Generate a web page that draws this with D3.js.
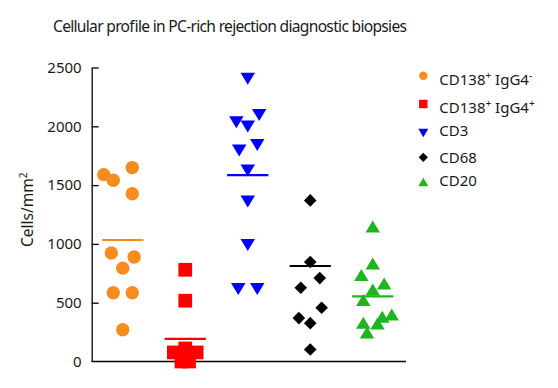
<!DOCTYPE html>
<html>
<head>
<meta charset="utf-8">
<script src="https://cdn.jsdelivr.net/npm/d3@7"></script>
<style>
  html, body { margin: 0; padding: 0; background: #fff; }
  svg { display: block; }
  text { font-family: "Noto Sans", "DejaVu Sans", sans-serif; fill: #1a1a1a; }
</style>
</head>
<body>
<svg id="chart" width="558" height="388"></svg>
<script>
// ---------------- data ----------------
const categories = ["CD138+ IgG4-", "CD138+ IgG4+", "CD3", "CD68", "CD20"];

const cd138IgG4Neg = [1589, 1541, 1649, 1427, 922, 888, 794, 585, 585, 270];
const cd138IgG4Pos = [780, 517, 111, 77, 77, 60, 30, 0, 0];
const cd3 = [2421, 2114, 2052, 2015, 1859, 1811, 1641, 1377, 1007, 633, 633];
const cd68 = [1370, 846, 709, 627, 457, 369, 326, 102];
const cd20 = [1130, 817, 718, 647, 596, 505, 383, 363, 312, 306, 230];

// horizontal spread of the dots inside each column (scatter-dot-plot slots)
const cd138IgG4NegSlot = [-2, -1, 1, 1, -1.2, 1.2, 0, -1, 1, 0];
const cd138IgG4PosSlot = [0, 0, 0, -1.2, 1.2, 0, 0, -0.4, 0.4];
const cd3Slot = [0, 1.2, -1.2, 0, 1, -0.9, 0, 0, 0, -1, 1];
const cd68Slot = [0, 0, 1, -1, 1.2, -1.2, 0, 0];
const cd20Slot = [0, 0, -1.2, 1.2, 0, -1, 2, 1, -1, 0.5, -0.6];

const groupMeans = [1033, 193, 1584, 812, 553];
const yTicks = [0, 500, 1000, 1500, 2000, 2500];

const titleText = "Cellular profile in PC-rich rejection diagnostic biopsies";
const yLabel = "Cells/mm";

// ---------------- layout / style ----------------
const svg = d3.select("#chart");
const axisX = 91.7, axisRight = 406;
const colors = ["#f68b1f", "#ff0000", "#0000ff", "#000000", "#1fb51f"];

const y = d3.scaleLinear().domain([0, 2500]).range([361.5, 67.5]);
const x = d3.scalePoint().domain(categories).range([91.5, 404]).padding(0.5);
const slot = d3.scaleLinear().domain([0, 1]).range([0, x.step() * 0.152]);

// marker shapes (d3 symbol types)
function triType(w, h, down) {
  return { draw(ctx) {
    const s = down ? 1 : -1;
    ctx.moveTo(0, s * h * 2 / 3);
    ctx.lineTo(-w / 2, -s * h / 3);
    ctx.lineTo(w / 2, -s * h / 3);
    ctx.closePath();
  }};
}
function diamondType(hw, hh) {
  return { draw(ctx) {
    ctx.moveTo(0, -hh); ctx.lineTo(hw, 0); ctx.lineTo(0, hh); ctx.lineTo(-hw, 0); ctx.closePath();
  }};
}
function squareType(s) {
  return { draw(ctx) { ctx.rect(-s / 2, -s / 2, s, s); } };
}
function circleType(r) {
  return { draw(ctx) { ctx.moveTo(r, 0); ctx.arc(0, 0, r, 0, 2 * Math.PI); } };
}

const plotShapes = [circleType(6.7), squareType(13.7), triType(14.5, 12, true), diamondType(6.3, 6.3), triType(14.5, 12, false)];
const legendShapes = [circleType(4.2), squareType(8.5), triType(10, 8.5, true), diamondType(4.6, 4.6), triType(10, 8.5, false)];

const seriesValues = [cd138IgG4Neg, cd138IgG4Pos, cd3, cd68, cd20];
const seriesSlots = [cd138IgG4NegSlot, cd138IgG4PosSlot, cd3Slot, cd68Slot, cd20Slot];

// ---------------- title ----------------
const title = svg.append("text").attr("x", 53).attr("y", 32)
  .style("font-size", "15.6px").attr("textLength", 354).attr("lengthAdjust", "spacing")
  .text(titleText);

// ---------------- axes ----------------
const yAxis = d3.axisLeft(y).tickValues(yTicks).tickSizeInner(-7).tickSizeOuter(0).tickPadding(10)
  .tickFormat(d3.format("d"));
const gy = svg.append("g").attr("transform", `translate(${axisX},0)`).call(yAxis);
gy.selectAll("text").style("font-size", "15px").attr("fill", "#1a1a1a")
  .style("font-family", '"Noto Sans", "DejaVu Sans", sans-serif');
gy.selectAll("line").attr("stroke", "#000").attr("stroke-width", 1.3);
gy.select(".domain").attr("stroke", "#000").attr("stroke-width", 1.3);
gy.selectAll(".tick").filter(d => d === 0).select("line").remove();

svg.append("line").attr("x1", axisX).attr("x2", axisRight)
  .attr("y1", y(0)).attr("y2", y(0)).attr("stroke", "#000").attr("stroke-width", 1.3);

// y label
const yl = svg.append("text").attr("transform", "translate(33.3,247) rotate(-90)")
  .style("font-size", "15.5px");
yl.append("tspan").text(yLabel);
yl.append("tspan").attr("dy", -6.5).style("font-size", "10px").text("2");

// ---------------- points ----------------
categories.forEach((cat, i) => {
  const g = svg.append("g");
  const sym = d3.symbol().type(plotShapes[i]);
  g.selectAll("path").data(seriesValues[i]).join("path")
    .attr("d", sym)
    .attr("transform", (d, j) => `translate(${x(cat) + slot(seriesSlots[i][j])},${y(d)})`)
    .attr("fill", colors[i]);
});

// mean lines
svg.append("g").selectAll("line").data(groupMeans).join("line")
  .attr("x1", (d, i) => x(categories[i]) - x.step() * 0.33)
  .attr("x2", (d, i) => x(categories[i]) + x.step() * 0.33)
  .attr("y1", d => y(d)).attr("y2", d => y(d))
  .attr("stroke", (d, i) => colors[i]).attr("stroke-width", 2.2);

// ---------------- legend ----------------
const legendMarkerY = [75.7, 104, 131.7, 157.3, 183.3];
const legendTextY = [85, 113.3, 136, 162.7, 186];
const legend = svg.append("g");
categories.forEach((cat, i) => {
  legend.append("path").attr("d", d3.symbol().type(legendShapes[i])())
    .attr("transform", `translate(423.3,${legendMarkerY[i]})`).attr("fill", colors[i]);
  const t = legend.append("text").attr("x", 439.3).attr("y", legendTextY[i]).style("font-size", "15px");
  const m = cat.match(/^(\S+)([+-]) (\S+)([+-])$/);
  if (m) {
    t.append("tspan").text(m[1]);
    t.append("tspan").attr("dy", -6.5).style("font-size", "10px").text(m[2]);
    t.append("tspan").attr("dy", 6.5).text(" " + m[3]);
    t.append("tspan").attr("dy", -6.5).style("font-size", "10px").text(m[4]);
  } else {
    t.text(cat);
  }
});
</script>
</body>
</html>
